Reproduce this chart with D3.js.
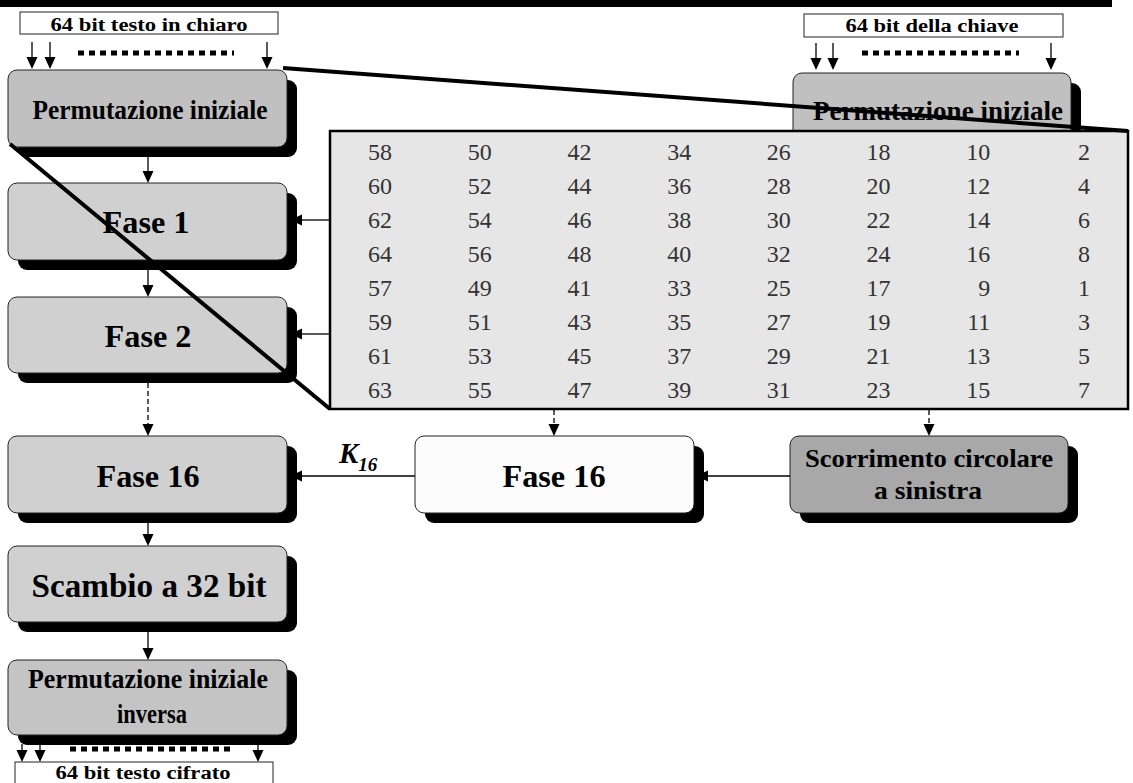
<!DOCTYPE html>
<html><head><meta charset="utf-8">
<script src="https://cdn.jsdelivr.net/npm/d3@7"></script>
<style>body{margin:0;background:#fff}svg{display:block}</style>
</head><body>
<script>
// ---- data ----
const permutationTable = [
  [58,50,42,34,26,18,10,2],
  [60,52,44,36,28,20,12,4],
  [62,54,46,38,30,22,14,6],
  [64,56,48,40,32,24,16,8],
  [57,49,41,33,25,17,9,1],
  [59,51,43,35,27,19,11,3],
  [61,53,45,37,29,21,13,5],
  [63,55,47,39,31,23,15,7]
];
const plainLabel = "64 bit testo in chiaro";
const keyLabel = "64 bit della chiave";
const cipherLabel = "64 bit testo cifrato";
const cipherSteps = ["Permutazione iniziale","Fase 1","Fase 2","Fase 16","Scambio a 32 bit","Permutazione iniziale|inversa"];
const keySteps = ["Permutazione iniziale","Fase 16","Scorrimento circolare|a sinistra"];
const subkeyLabel = ["K","16"];

// ---- drawing ----
const W = 1133, H = 783;
const svg = d3.select("body").append("svg").attr("width", W).attr("height", H);
const serif = "'Liberation Serif','Times New Roman',serif";

svg.append("rect").attr("x",0).attr("y",0).attr("width",1112).attr("height",7).attr("fill","#000");

function label(x, y, txt, size, len, opts={}) {
  const t = svg.append("text").attr("x", x).attr("y", y)
    .attr("text-anchor", opts.anchor || "middle")
    .attr("font-family", serif).attr("font-weight", opts.weight || "bold")
    .attr("font-style", opts.style || "normal")
    .attr("font-size", size).attr("fill", opts.fill || "#000").text(txt);
  if (len) t.attr("textLength", len).attr("lengthAdjust", "spacingAndGlyphs");
  return t;
}
function box(x, y, w, h, fill, shadow=true) {
  if (shadow) svg.append("rect").attr("x",x+10).attr("y",y+10).attr("width",w).attr("height",h)
    .attr("rx",9).attr("fill","#000");
  svg.append("rect").attr("x",x).attr("y",y).attr("width",w).attr("height",h)
    .attr("rx",9).attr("fill",fill).attr("stroke","#222").attr("stroke-width",1);
}
function arrow(x1, y1, x2, y2, dashed=false) {
  const L = Math.hypot(x2-x1, y2-y1), ux = (x2-x1)/L, uy = (y2-y1)/L;
  const hl = 12, hw = 5.5;
  const bx = x2 - ux*hl, by = y2 - uy*hl;
  svg.append("line").attr("x1",x1).attr("y1",y1).attr("x2",bx).attr("y2",by)
    .attr("stroke","#000").attr("stroke-width",1.3)
    .attr("stroke-dasharray", dashed ? "5,3" : null);
  svg.append("path").attr("d", `M${x2},${y2}L${bx - uy*hw},${by + ux*hw}L${bx + uy*hw},${by - ux*hw}Z`)
    .attr("fill","#000");
}
function dotted(x1, x2, y) {
  svg.append("line").attr("x1",x1).attr("x2",x2).attr("y1",y).attr("y2",y)
    .attr("stroke","#000").attr("stroke-width",5).attr("stroke-dasharray","6,5");
}

// top input boxes
svg.append("rect").attr("x",20).attr("y",12).attr("width",258).attr("height",22).attr("fill","#fff").attr("stroke","#222");
label(149, 31, plainLabel, 18.5, 197);
[32,50,267].forEach(x => arrow(x, 42, x, 69));
dotted(78, 234, 53);

svg.append("rect").attr("x",804).attr("y",14).attr("width",259).attr("height",23).attr("fill","#fff").attr("stroke","#222");
label(932, 32, keyLabel, 18.5, 173);
[816,833,1051].forEach(x => arrow(x, 43, x, 70));
dotted(862, 1019, 53);

// left column
const leftX = 8, boxW = 279, cx = 148;
box(leftX, 70, boxW, 77, "#c0c0c0");
label(150, 119, cipherSteps[0], 28, 235);
box(leftX, 183, boxW, 77, "#d0d0d0");
label(146, 233, cipherSteps[1], 32, 87);
box(leftX, 297, boxW, 76, "#d0d0d0");
label(148, 347, cipherSteps[2], 32, 87);
box(leftX, 436, boxW, 77, "#d0d0d0");
label(148, 487, cipherSteps[3], 32, 103);
box(leftX, 546, boxW, 76, "#d0d0d0");
label(149, 597, cipherSteps[4], 33, 235);
box(leftX, 660, boxW, 75, "#c4c4c4");
const inv = cipherSteps[5].split("|");
label(148, 688, inv[0], 28, 240);
label(152, 723, inv[1], 28, 70);

arrow(cx, 157, cx, 183);
arrow(cx, 270, cx, 297);
arrow(cx, 383, cx, 436, true);
arrow(cx, 523, cx, 546);
arrow(cx, 632, cx, 660);
[22,40,258].forEach(x => arrow(x, 744, x, 762));
dotted(70, 232, 749);

svg.append("rect").attr("x",15).attr("y",762).attr("width",258).attr("height",40).attr("fill","#fff").attr("stroke","#222");
label(143, 779, cipherLabel, 18.5, 175);

// right key permutation box (partly hidden by table)
box(793, 73, 278, 110, "#c0c0c0");
label(938, 120, keySteps[0], 28, 250);

// permutation table
const tx0 = 330, ty0 = 131, tx1 = 1128, ty1 = 409;
svg.append("rect").attr("x",tx0).attr("y",ty0).attr("width",tx1-tx0).attr("height",ty1-ty0)
  .attr("fill","#e6e6e6").attr("stroke","#000").attr("stroke-width",2.5);
const colX = d3.scaleLinear().domain([0,7]).range([392,1090]);
const rowY = d3.scaleLinear().domain([0,7]).range([160,398]);
const rows = svg.append("g").selectAll("g").data(permutationTable).join("g");
rows.selectAll("text").data((r,i) => r.map((v,j) => ({v, i, j}))).join("text")
  .attr("x", d => colX(d.j)).attr("y", d => rowY(d.i))
  .attr("text-anchor","end").attr("font-family",serif).attr("font-size",24)
  .attr("fill","#333").text(d => d.v);

// arrows from table to rounds
arrow(tx0, 220, 290, 220);
arrow(tx0, 334, 290, 334);

// key schedule lower boxes
box(415, 436, 279, 77, "#fcfcfc");
label(554, 487, keySteps[1], 32, 103);
box(790, 436, 278, 77, "#a8a8a8");
const sc = keySteps[2].split("|");
label(929, 467, sc[0], 26, 248);
label(928, 499, sc[1], 26, 108);

arrow(554, 410, 554, 436, true);
arrow(929, 410, 929, 436, true);
arrow(415, 476, 290, 476);
arrow(790, 476, 696, 476);

// K16 label
const k = svg.append("text").attr("x",339).attr("y",463).attr("font-family",serif)
  .attr("font-weight","bold").attr("font-style","italic").attr("font-size",29);
k.append("tspan").text(subkeyLabel[0]);
k.append("tspan").attr("font-size",19).attr("dy",8).text(subkeyLabel[1]);

// zoom lines
svg.append("line").attr("x1",283).attr("y1",68).attr("x2",tx1).attr("y2",ty0)
  .attr("stroke","#000").attr("stroke-width",4);
svg.append("line").attr("x1",10).attr("y1",144).attr("x2",tx0).attr("y2",ty1)
  .attr("stroke","#000").attr("stroke-width",4);
</script>
</body></html>
